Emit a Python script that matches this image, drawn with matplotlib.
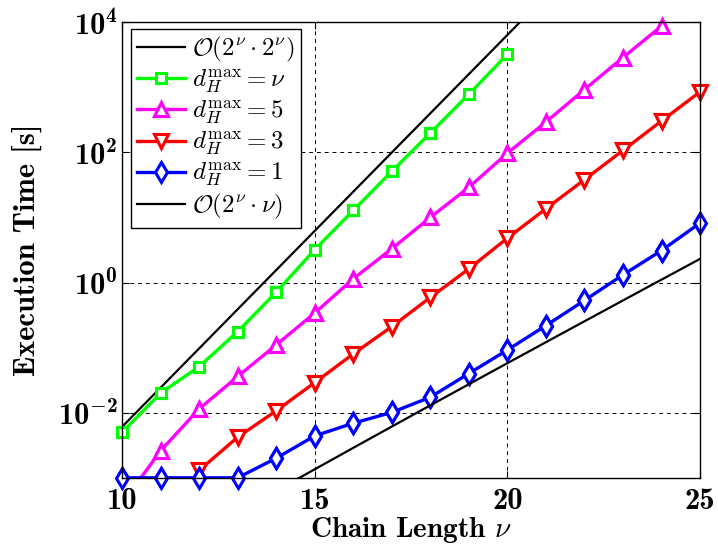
import numpy as np
import matplotlib
matplotlib.use('Agg')
import matplotlib.pyplot as plt
from matplotlib.ticker import FixedLocator, FuncFormatter

plt.rcParams['mathtext.fontset'] = 'cm'
plt.rcParams['font.family'] = 'cmb10'
plt.rcParams['axes.unicode_minus'] = False

# chain lengths
nu = [10, 11, 12, 13, 14, 15, 16, 17, 18, 19, 20, 21, 22, 23, 24, 25]

# execution time [s]
t_nu = [0.005, 0.02, 0.051, 0.176, 0.71, 3.2, 12.8, 51, 198, 780, 3200]          # d_H^max = nu, nu=10..20
t_d5 = [0.0004, 0.0026, 0.0114, 0.036, 0.11, 0.34, 1.14, 3.3, 10, 29, 97,
        292, 920, 2860, 8700]                                                     # nu=10..24
t_d3 = [0.0013, 0.0042, 0.0107, 0.029, 0.080, 0.21, 0.59, 1.62, 4.8,
        13.6, 38, 107, 303, 850]                                                  # nu=12..25
t_d1 = [0.001, 0.001, 0.001, 0.001, 0.002, 0.0044, 0.0069, 0.0101, 0.0173,
        0.040, 0.092, 0.218, 0.53, 1.31, 3.1, 8.2]                                # nu=10..25

# prefactors of the two scaling guides
c_quad = 5.78e-9   # O(2^nu * 2^nu)
c_lin = 2.75e-9    # O(2^nu * nu)

ymin, ymax = 1e-3, 1e4

fig = plt.figure(figsize=(7.18, 5.53), dpi=100)
ax = fig.add_axes([0.170, 0.136, 0.805, 0.824])

nn = np.linspace(10, 25, 301)
series = [
    (nu[:11], t_nu, (0, 1, 0), 's', 7, r'$d_H^{\mathrm{max}} = \nu$'),
    (nu[:15], t_d5, (1, 0, 1), '^', 9.5, r'$d_H^{\mathrm{max}} = 5$'),
    (nu[2:], t_d3, (1, 0, 0), 'v', 9.5, r'$d_H^{\mathrm{max}} = 3$'),
    (nu, t_d1, (0, 0, 1), 'd', 10, r'$d_H^{\mathrm{max}} = 1$'),
]

ax.plot(nn, c_quad * 4.0 ** nn, 'k', lw=1.6, label=r'$\mathcal{O}(2^\nu \cdot 2^\nu)$')
for x, y, col, mk, ms, lab in series:
    ax.plot(x, y, color=col, lw=2.4, marker=mk, ms=ms, mfc='w', mec=col, mew=2.2, label=lab)
    # markers sitting on the frame are not clipped in the original
    x = np.array(x)
    y = np.array(y)
    keep = y >= ymin
    ax.plot(x[keep], y[keep], ls='none', marker=mk, ms=ms, mfc='w', mec=col, mew=2.2, clip_on=False)
ax.plot(nn, c_lin * 2.0 ** nn * nn, 'k', lw=1.6, label=r'$\mathcal{O}(2^\nu \cdot \nu)$')

ax.set_yscale('log')
ax.set_xlim(10, 25)
ax.set_ylim(ymin, ymax)
ax.xaxis.set_major_locator(FixedLocator([10, 15, 20, 25]))
ax.yaxis.set_major_locator(FixedLocator([1e-2, 1e0, 1e2, 1e4]))
ax.yaxis.set_minor_locator(FixedLocator([]))


def log_label(v, p):
    # \mathdefault picks up the bold cmb10 family; the minus has to come from the math font
    e = int(round(np.log10(v)))
    if e < 0:
        return r'$\mathdefault{10}^{-\mathdefault{%d}}$' % -e
    return r'$\mathdefault{10}^{\mathdefault{%d}}$' % e


ax.yaxis.set_major_formatter(FuncFormatter(log_label))
ax.tick_params(direction='in', length=5, width=0.8, top=True, right=True, labelsize=22)
ax.tick_params(axis='y', pad=3)
ax.tick_params(axis='x', pad=7)
ax.grid(True, color='k', ls=(0, (4, 4)), lw=0.7)
for s in ax.spines.values():
    s.set_linewidth(1.0)

ax.set_xlabel(r'Chain Length $\nu$', fontsize=21, labelpad=0)
ax.set_ylabel('Execution Time [s]', fontsize=22, labelpad=11)

leg = ax.legend(loc='upper left', bbox_to_anchor=(0.0156, 0.985), fontsize=18, frameon=True,
                fancybox=False, framealpha=1, edgecolor='k', handlelength=1.9,
                handletextpad=0.3, labelspacing=0.12, borderpad=0.25, borderaxespad=0)
leg.get_frame().set_linewidth(1.0)

plt.savefig('out.png', dpi=100)
plt.close()
